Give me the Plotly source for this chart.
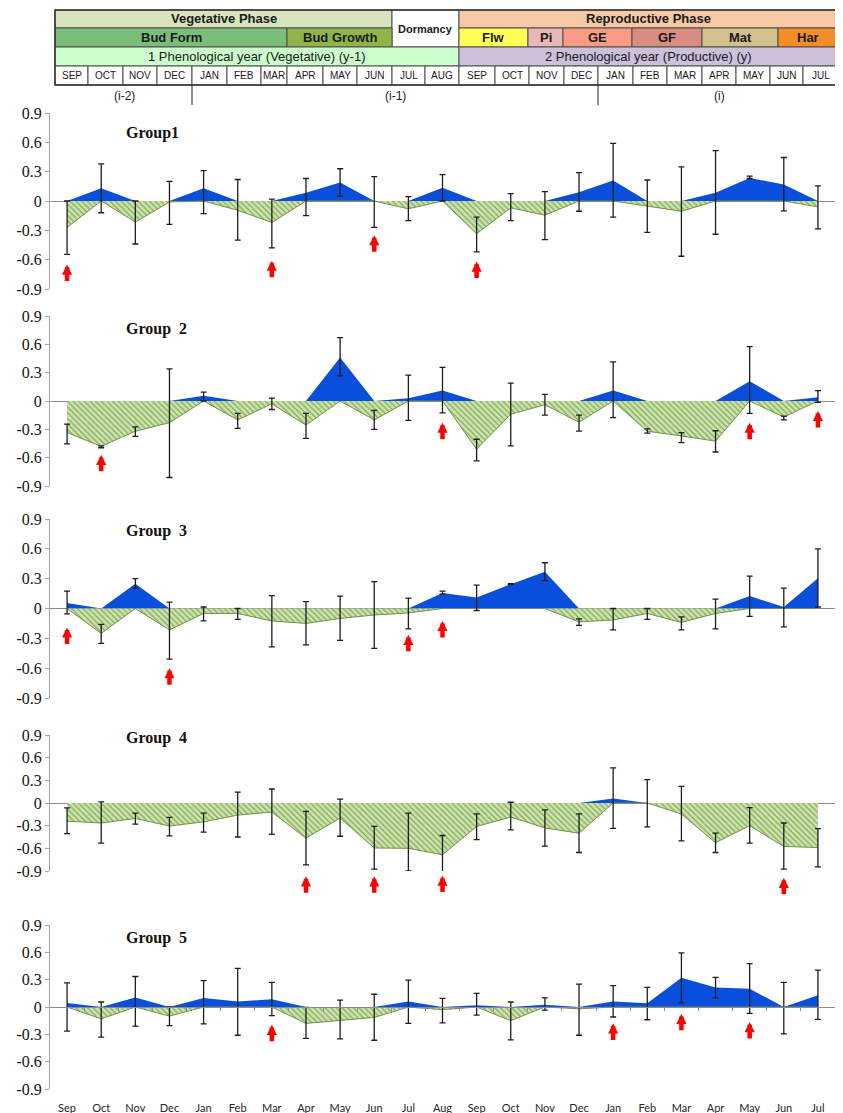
import plotly.graph_objects as go

# ---------------- data ----------------
months = ["Sep", "Oct", "Nov", "Dec", "Jan", "Feb", "Mar", "Apr", "May", "Jun", "Jul", "Aug",
          "Sep", "Oct", "Nov", "Dec", "Jan", "Feb", "Mar", "Apr", "May", "Jun", "Jul"]
header_months = ["SEP", "OCT", "NOV", "DEC", "JAN", "FEB", "MAR", "APR", "MAY", "JUN", "JUL", "AUG",
                 "SEP", "OCT", "NOV", "DEC", "JAN", "FEB", "MAR", "APR", "MAY", "JUN", "JUL"]
group_names = ["Group1", "Group  2", "Group  3", "Group  4", "Group  5"]

g1_mean = [-0.27, 0.13, -0.215, -0.01, 0.13, -0.095, -0.22, 0.085, 0.19, 0.0, -0.08, 0.135,
           -0.335, -0.07, -0.145, 0.09, 0.21, -0.05, -0.105, 0.085, 0.235, 0.17, -0.06]
g1_hi = [0.0, 0.38, 0.0, 0.20, 0.31, 0.22, 0.02, 0.23, 0.33, 0.25, 0.045, 0.27,
         -0.165, 0.075, 0.095, 0.29, 0.59, 0.215, 0.35, 0.515, 0.255, 0.445, 0.155]
g1_lo = [-0.545, -0.12, -0.44, -0.24, -0.13, -0.40, -0.48, -0.15, 0.05, -0.27, -0.20, 0.0,
         -0.52, -0.20, -0.395, -0.105, -0.165, -0.32, -0.565, -0.34, 0.23, -0.10, -0.285]

g2_mean = [-0.335, -0.48, -0.32, -0.23, 0.055, -0.20, -0.03, -0.255, 0.46, -0.20, 0.03, 0.11,
           -0.51, -0.14, -0.04, -0.225, 0.11, -0.32, -0.37, -0.425, 0.21, -0.17, 0.04]
g2_hi = [-0.245, -0.475, -0.275, 0.34, 0.095, -0.13, 0.03, -0.13, 0.67, -0.10, 0.275, 0.355,
         -0.405, 0.19, 0.07, -0.15, 0.415, -0.295, -0.335, -0.315, 0.575, -0.16, 0.11]
g2_lo = [-0.455, -0.495, -0.375, -0.81, 0.0, -0.29, -0.09, -0.395, 0.265, -0.30, -0.205, -0.125,
         -0.635, -0.475, -0.15, -0.32, -0.175, -0.34, -0.44, -0.54, -0.13, -0.20, -0.015]

g3_mean = [0.055, -0.25, 0.25, -0.215, -0.05, -0.05, -0.125, -0.15, -0.10, -0.065, -0.045, 0.155,
           0.11, 0.245, 0.37, -0.135, -0.115, -0.05, -0.14, -0.05, 0.125, 0.015, 0.305]
g3_hi = [0.175, -0.16, 0.30, 0.065, 0.015, 0.0, 0.13, 0.07, 0.125, 0.27, 0.105, 0.175,
         0.235, 0.25, 0.46, -0.105, 0.0, 0.0, -0.085, 0.095, 0.325, 0.205, 0.60]
g3_lo = [-0.055, -0.35, 0.205, -0.51, -0.125, -0.11, -0.385, -0.365, -0.32, -0.40, -0.205, 0.145,
         -0.02, 0.24, 0.28, -0.17, -0.215, -0.11, -0.215, -0.205, -0.08, -0.185, 0.015]

g4_mean = [-0.24, -0.265, -0.205, -0.305, -0.25, -0.16, -0.12, -0.465, -0.20, -0.595, -0.60, -0.685,
           -0.31, -0.185, -0.33, -0.40, 0.06, 0.0, -0.145, -0.525, -0.30, -0.575, -0.59]
g4_hi = [-0.065, 0.015, -0.135, -0.19, -0.135, 0.145, 0.185, -0.11, 0.05, -0.31, -0.135, -0.43,
         -0.145, 0.01, -0.09, -0.145, 0.465, 0.31, 0.22, -0.40, -0.06, -0.265, -0.34]
g4_lo = [-0.405, -0.53, -0.28, -0.435, -0.385, -0.45, -0.415, -0.82, -0.44, -0.875, -0.90, -0.91,
         -0.485, -0.355, -0.57, -0.655, -0.335, -0.315, -0.50, -0.655, -0.53, -0.875, -0.845]

g5_mean = [0.045, -0.13, 0.105, -0.10, 0.10, 0.06, 0.085, -0.18, -0.145, -0.115, 0.06, -0.03,
           0.02, -0.15, 0.025, -0.02, 0.06, 0.04, 0.32, 0.215, 0.20, -0.005, 0.13]
g5_hi = [0.265, 0.055, 0.335, 0.0, 0.29, 0.425, 0.27, -0.005, 0.075, 0.14, 0.295, 0.095,
         0.15, 0.055, 0.10, 0.25, 0.235, 0.215, 0.595, 0.325, 0.475, 0.27, 0.405]
g5_lo = [-0.265, -0.33, -0.21, -0.205, -0.185, -0.31, -0.095, -0.345, -0.35, -0.365, -0.18, -0.175,
         -0.09, -0.36, -0.035, -0.31, -0.11, -0.14, 0.045, 0.10, -0.07, -0.295, -0.135]

# red arrows: month index and the y value of the arrow tip
g1_arrow_idx = [0, 6, 9, 12]
g1_arrow_y = [-0.65, -0.61, -0.35, -0.62]
g2_arrow_idx = [1, 11, 20, 22]
g2_arrow_y = [-0.57, -0.23, -0.23, -0.105]
g3_arrow_idx = [0, 3, 10, 11]
g3_arrow_y = [-0.19, -0.60, -0.265, -0.125]
g4_arrow_idx = [7, 9, 11, 21]
g4_arrow_y = [-0.97, -0.97, -0.96, -0.99]
g5_arrow_idx = [6, 16, 18, 20]
g5_arrow_y = [-0.195, -0.18, -0.075, -0.165]

y_ticks = [-0.9, -0.6, -0.3, 0, 0.3, 0.6, 0.9]
y_ticktext = ["-0.9", "-0.6", "-0.3", "0", "0.3", "0.6", "0.9"]
Y_MIN, Y_MAX = -0.9, 0.9

# header texts
phase_labels = ["Vegetative Phase", "Dormancy", "Reproductive Phase"]
stage_labels = ["Bud Form", "Bud Growth", "Flw", "Pi", "GE", "GF", "Mat", "Har"]
year_labels = ["1 Phenological year (Vegetative) (y-1)", "2 Phenological year (Productive) (y)"]
season_labels = ["(i-2)", "(i-1)", "(i)"]

# ---------------- layout helpers ----------------
OFF = 8                     # default page margin around the figure
FW, FH = 843 - OFF, 1113 - OFF
ML, MR = 50 - OFF, 8
PW = FW - ML - MR


def px(xp):
    """page x pixel -> paper x"""
    return (xp - OFF - ML) / PW


def py(yp):
    """page y pixel -> paper y"""
    return 1 - (yp - OFF) / FH


panel_px = [(113, 289), (316, 486), (519, 698), (735, 871), (925, 1089)]
title_py = [133, 329, 531, 738, 938]

groups = [
    (g1_mean, g1_hi, g1_lo, g1_arrow_idx, g1_arrow_y),
    (g2_mean, g2_hi, g2_lo, g2_arrow_idx, g2_arrow_y),
    (g3_mean, g3_hi, g3_lo, g3_arrow_idx, g3_arrow_y),
    (g4_mean, g4_hi, g4_lo, g4_arrow_idx, g4_arrow_y),
    (g5_mean, g5_hi, g5_lo, g5_arrow_idx, g5_arrow_y),
]

BLUE = "#0a4fdc"
GREEN_LINE = "#74914a"
GREEN_BG = "#cce4ad"
GREEN_FG = "#84a85a"

fig = go.Figure()
idx = list(range(len(months)))
annotations = []
shapes = []
layout = {}

for n, (mean, hi, lo, a_idx, a_y) in enumerate(groups, start=1):
    key = "" if n == 1 else str(n)
    xa, ya = f"x{key}", f"y{key}"
    pos = [max(v, 0) for v in mean]
    neg = [min(v, 0) for v in mean]
    fig.add_trace(go.Scatter(x=idx, y=pos, mode="lines", line=dict(color=BLUE, width=0),
                             fill="tozeroy", fillcolor=BLUE, xaxis=xa, yaxis=ya,
                             showlegend=False, hoverinfo="skip"))
    fig.add_trace(go.Scatter(x=idx, y=neg, mode="lines", line=dict(color=GREEN_LINE, width=1),
                             fill="tozeroy", fillcolor=GREEN_BG,
                             fillpattern=dict(shape="\\", fgcolor=GREEN_FG, bgcolor=GREEN_BG,
                                              size=4, solidity=0.3, fillmode="replace"),
                             xaxis=xa, yaxis=ya, showlegend=False, hoverinfo="skip"))
    fig.add_trace(go.Scatter(x=idx, y=mean, mode="markers",
                             marker=dict(size=1, color="rgba(0,0,0,0)"),
                             error_y=dict(type="data", symmetric=False,
                                          array=[h - m for h, m in zip(hi, mean)],
                                          arrayminus=[m - l for m, l in zip(mean, lo)],
                                          color="#1e1e1e", thickness=1.3, width=3),
                             cliponaxis=False, xaxis=xa, yaxis=ya, showlegend=False))
    top, bot = panel_px[n - 1]
    layout[f"xaxis{key}"] = dict(domain=[0, 1], range=[-0.5, 22.5], anchor=ya,
                                 showgrid=False, zeroline=False, showline=False,
                                 showticklabels=(n == 5), fixedrange=True, automargin=False,
                                 tickvals=idx if n == 5 else None,
                                 ticktext=months if n == 5 else None,
                                 ticks="outside" if n == 5 else "", ticklen=9,
                                 tickcolor="rgba(0,0,0,0)",
                                 tickfont=dict(family="Lato", size=11, color="#262626"))
    layout[f"yaxis{key}"] = dict(domain=[py(bot), py(top)], range=[Y_MIN, Y_MAX], anchor=xa,
                                 showgrid=False, zeroline=True, zerolinecolor="#8c8c8c",
                                 zerolinewidth=1, showline=True, linecolor="#a6a6a6",
                                 linewidth=1, ticks="outside", ticklen=4, tickcolor="#a6a6a6",
                                 tickvals=y_ticks, ticktext=y_ticktext, automargin=False,
                                 tickfont=dict(family="Liberation Serif", size=16, color="#111"))
    annotations.append(dict(text=f"<b>{group_names[n - 1]}</b>", xref="paper", yref="paper",
                            x=px(124), y=py(title_py[n - 1]), xanchor="left", yanchor="middle",
                            showarrow=False,
                            font=dict(family="Liberation Serif", size=16, color="#111")))
    # arrows are placed relative to the y-axis domain so that tips below the range still show
    for i, yv in zip(a_idx, a_y):
        annotations.append(dict(x=i, y=(yv - Y_MIN) / (Y_MAX - Y_MIN), xref=xa,
                                yref=f"{ya} domain", text="", showarrow=True,
                                ax=0, ay=18, arrowhead=2, arrowsize=0.45, arrowwidth=4.5,
                                arrowcolor="#ff0000", standoff=0))

# extra axis: zero line with tick marks between categories for the last panel
zero5 = (panel_px[4][0] + panel_px[4][1]) / 2
fig.add_trace(go.Scatter(x=[0], y=[0], mode="markers", marker=dict(size=1, color="rgba(0,0,0,0)"),
                         xaxis="x6", yaxis="y5", showlegend=False, hoverinfo="skip"))
layout["xaxis6"] = dict(overlaying="x5", anchor="free", position=py(zero5), range=[-0.5, 22.5],
                        showgrid=False, zeroline=False, showline=True, linecolor="#8c8c8c",
                        tickvals=[i + 0.5 for i in idx], ticks="outside", ticklen=3,
                        tickcolor="#8c8c8c", showticklabels=False, automargin=False)

# ---------------- header table ----------------
BORDER = "#4d4d4d"


def cell(x0, x1, y0, y1, color, text, size=13, bold=True):
    shapes.append(dict(type="rect", xref="paper", yref="paper", x0=px(x0), x1=px(x1),
                       y0=py(y1), y1=py(y0), fillcolor=color, line=dict(color=BORDER, width=1)))
    t = f"<b>{text}</b>" if bold else text
    annotations.append(dict(text=t, xref="paper", yref="paper", x=px((x0 + x1) / 2),
                            y=py((y0 + y1) / 2), xanchor="center", yanchor="middle",
                            showarrow=False,
                            font=dict(family="Liberation Sans", size=size, color="#1a1a1a")))


r0, r1, r2, r3, r4 = 10, 28, 47, 66, 85
cell(55, 392, r0, r1, "#d7e4bd", phase_labels[0])
cell(392, 459, r0, r2, "#ffffff", phase_labels[1], size=11)
cell(459, 838, r0, r1, "#f6c9a4", phase_labels[2])
stage_edges = [55, 287, 392, 459, 528, 563, 632, 702, 778, 838]
stage_colors = ["#79bd79", "#8fb54a", None, "#ffff57", "#e6b8b7", "#fa9c84", "#d98d80", "#d3c08c", "#f58c27"]
si = 0
for k in range(len(stage_edges) - 1):
    if stage_colors[k] is None:
        continue
    cell(stage_edges[k], stage_edges[k + 1], r1, r2, stage_colors[k], stage_labels[si])
    si += 1
cell(55, 459, r2, r3, "#ccffcc", year_labels[0], bold=False)
cell(459, 838, r2, r3, "#ccc0da", year_labels[1], bold=False)
month_edges = [55, 88, 123, 157, 192, 227, 261, 287, 323, 357, 392, 425, 459, 495, 529, 564,
               598, 633, 667, 702, 736, 770, 803, 838]
for k, m in enumerate(header_months):
    cell(month_edges[k], month_edges[k + 1], r3, r4, "#ffffff", m, size=10, bold=False)
shapes.append(dict(type="rect", xref="paper", yref="paper", x0=px(55), x1=px(838),
                   y0=py(r4), y1=py(r0), line=dict(color="#333", width=1.5)))
for xv in (192, 598):
    shapes.append(dict(type="line", xref="paper", yref="paper", x0=px(xv), x1=px(xv),
                       y0=py(r4), y1=py(105), line=dict(color="#222", width=1)))
for xv, t in zip((124, 395, 719), season_labels):
    annotations.append(dict(text=t, xref="paper", yref="paper", x=px(xv), y=py(96),
                            xanchor="center", yanchor="middle", showarrow=False,
                            font=dict(family="Liberation Sans", size=12, color="#1a1a1a")))

fig.update_layout(width=FW, height=FH, margin=dict(l=ML, r=MR, t=0, b=0, autoexpand=False),
                  paper_bgcolor="white", plot_bgcolor="white",
                  annotations=annotations, shapes=shapes, showlegend=False, **layout)

fig.write_html("out.html")
